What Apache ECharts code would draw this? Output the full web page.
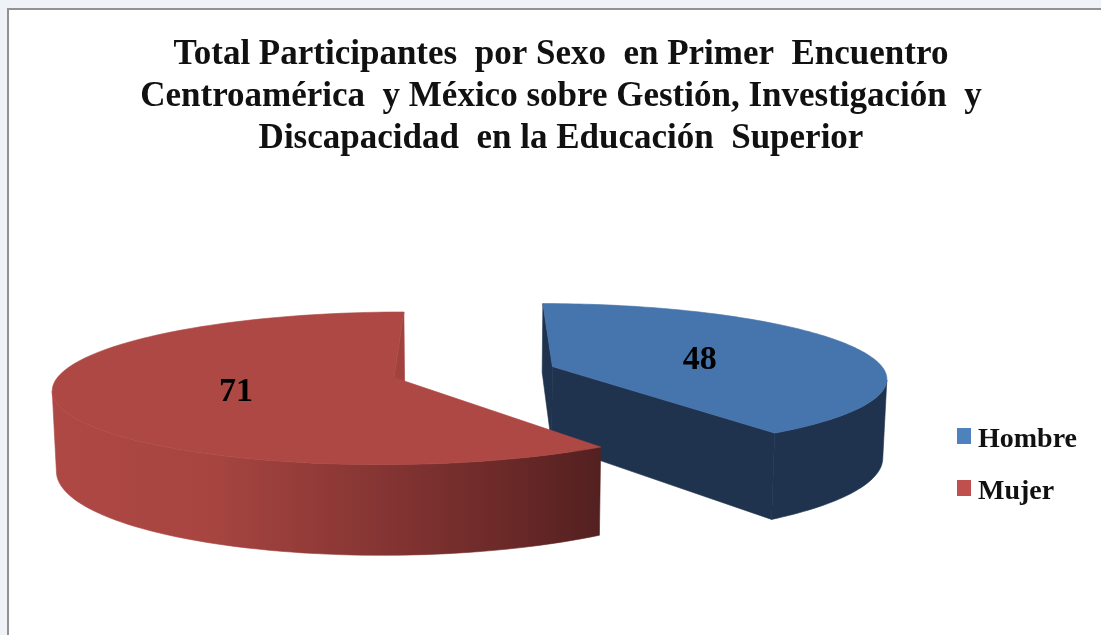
<!DOCTYPE html>
<html>
<head>
<meta charset="utf-8">
<script src="https://cdn.jsdelivr.net/npm/echarts@6/dist/echarts.min.js"></script>
<style>
html,body{margin:0;padding:0;width:1101px;height:635px;overflow:hidden;background:#eff3f7}
#frame{position:absolute;left:7px;top:8px;right:0;bottom:0;background:#fff;border-left:2px solid #929292;border-top:2px solid #929292}
#chart{position:absolute;left:0;top:0;width:1101px;height:635px}
</style>
</head>
<body>
<div id="frame"></div>
<div id="chart"></div>
<script>
var categories = ['Hombre', 'Mujer'];
var hombreValues = [48];
var mujerValues = [71];
var titleLines = [
  'Total Participantes  por Sexo  en Primer  Encuentro',
  'Centroamérica  y México sobre Gestión, Investigación  y',
  'Discapacidad  en la Educación  Superior'
];

var total = hombreValues[0] + mujerValues[0];
// projection of the tilted, exploded pie
var P = {vx: 474, topY: 372, topS: 0.22, botY: 450, botS: 0.25, botX: 0.99, R: 333, k: 0.14, explode: 83};

function project(X, Y, bottom) {
  var w = 1 - P.k * Y / P.R;
  var sx = X / w, sy = Y / w;
  return bottom
    ? [P.vx + sx * P.botX, P.botY + sy * P.botS]
    : [P.vx + sx, P.topY + sy * P.topS];
}

function makeRender(startValue, cfg) {
  return function (params, api) {
    var value = api.value(0);
    var a0 = startValue / total * 2 * Math.PI;
    var a1 = (startValue + value) / total * 2 * Math.PI;
    var mid = (a0 + a1) / 2;
    var ox = P.explode * Math.sin(mid), oy = -P.explode * Math.cos(mid);
    function arc(bottom) {
      var pts = [];
      for (var i = 0; i <= 120; i++) {
        var a = a0 + (a1 - a0) * i / 120;
        pts.push(project(ox + P.R * Math.sin(a), oy - P.R * Math.cos(a), bottom));
      }
      return pts;
    }
    var topArc = arc(false), botArc = arc(true);
    // the outer wall only shows from the silhouette point round the near side
    var ext = 0;
    for (var i = 1; i <= 120; i++) {
      if (Math.abs(topArc[i][0] - P.vx) > Math.abs(topArc[ext][0] - P.vx)) { ext = i; }
    }
    var wallTop = cfg.blue ? topArc.slice(ext) : topArc.slice(0, ext + 1);
    var wallBot = cfg.blue ? botArc.slice(ext) : botArc.slice(0, ext + 1);
    var cTop = project(ox, oy, false), cBot = project(ox, oy, true);
    function flat(points, fill) {
      return {type: 'polygon', shape: {points: points}, style: {fill: fill, stroke: fill, lineWidth: 0.6}};
    }
    var wall = flat(wallTop.concat(wallBot.slice().reverse()), cfg.wall);
    var startWall = flat([cTop, topArc[0], botArc[0], cBot], cfg.cut);
    var endWall = flat([cTop, topArc[120], botArc[120], cBot], cfg.cut);
    var top = flat([cTop].concat(topArc), cfg.top);
    var lp = project(ox + P.R * 0.48 * Math.sin(mid), oy - P.R * 0.48 * Math.cos(mid), false);
    var label = {
      type: 'text', x: lp[0] + 1, y: lp[1] + 4,
      style: {text: String(value), fill: '#000', font: 'bold 34px "Liberation Serif"', align: 'center', verticalAlign: 'middle'}
    };
    // only the cut faces that turn towards the viewer are drawn
    return {type: 'group', children: cfg.blue ? [startWall, endWall, wall, top, label] : [endWall, wall, top, label]};
  };
}

var redWall = {
  type: 'linear', x: 51, y: 0, x2: 601, y2: 0, global: true,
  colorStops: [
    {offset: 0, color: '#ae4844'},
    {offset: 0.28, color: '#a84541'},
    {offset: 0.6, color: '#853533'},
    {offset: 0.85, color: '#682827'},
    {offset: 1, color: '#532020'}
  ]
};

var option = {
  animation: false,
  color: ['#4f81bd', '#c0504d'],
  title: {
    text: titleLines.join('\n'),
    left: 556, top: 29, textAlign: 'center',
    textStyle: {fontFamily: 'Liberation Serif', fontWeight: 'bold', fontSize: 35, lineHeight: 42, color: '#111'}
  },
  legend: {
    data: categories, orient: 'vertical', left: 957, top: 426, padding: 0, icon: 'rect',
    itemWidth: 14, itemHeight: 16, itemGap: 24,
    selectedMode: false,
    formatter: '{t|{name}}',
    textStyle: {
      fontFamily: 'Liberation Serif', fontWeight: 'bold', fontSize: 28, color: '#111',
      rich: {t: {fontFamily: 'Liberation Serif', fontWeight: 'bold', fontSize: 28, color: '#111', padding: [8, 0, 0, 2]}}
    }
  },
  tooltip: {show: false},
  series: [
    {
      type: 'custom', name: categories[0], coordinateSystem: 'none', silent: true,
      data: hombreValues,
      renderItem: makeRender(0, {top: '#4674ac', wall: '#1f334e', cut: '#1f334e', blue: true})
    },
    {
      type: 'custom', name: categories[1], coordinateSystem: 'none', silent: true,
      data: mujerValues,
      renderItem: makeRender(hombreValues[0], {top: '#ae4844', wall: redWall, cut: '#a2423f', blue: false})
    }
  ]
};
echarts.init(document.getElementById('chart')).setOption(option);
</script>
</body>
</html>
